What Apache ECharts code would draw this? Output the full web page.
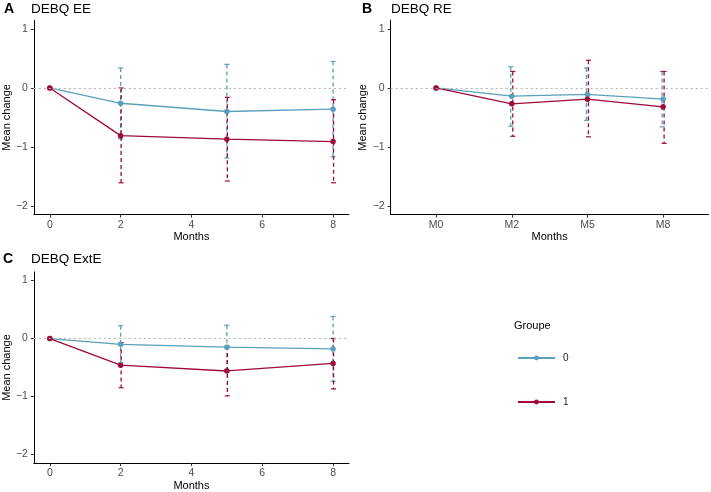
<!DOCTYPE html>
<html>
<head>
<meta charset="utf-8">
<script src="https://cdn.jsdelivr.net/npm/echarts@6/dist/echarts.min.js"></script>
<style>
  html, body { margin: 0; padding: 0; background: #fff; }
  #chart { width: 711px; height: 492px; }
</style>
</head>
<body>
<div id="chart"></div>
<script>
// DEBQ mean change by group, 3 panels

var months = [0, 2, 5, 8];
var monthLabels = ['M0', 'M2', 'M5', 'M8'];
var groups = ['0', '1'];

// panel A - DEBQ EE
var ee0 = [0, -0.26, -0.40, -0.36];
var ee0Lo = [0, -0.86, -1.19, -1.17];
var ee0Hi = [0, 0.34, 0.40, 0.45];
var ee1 = [0, -0.81, -0.87, -0.91];
var ee1Lo = [0, -1.61, -1.58, -1.61];
var ee1Hi = [0, 0.00, -0.16, -0.20];

// panel B - DEBQ RE
var re0 = [0, -0.14, -0.11, -0.19];
var re0Lo = [0, -0.65, -0.55, -0.66];
var re0Hi = [0, 0.36, 0.34, 0.28];
var re1 = [0, -0.27, -0.19, -0.32];
var re1Lo = [0, -0.82, -0.83, -0.94];
var re1Hi = [0, 0.28, 0.47, 0.28];

// panel C - DEBQ ExtE
var ext0 = [0, -0.10, -0.15, -0.18];
var ext0Lo = [0, -0.42, -0.53, -0.74];
var ext0Hi = [0, 0.22, 0.23, 0.38];
var ext1 = [0, -0.46, -0.56, -0.43];
var ext1Lo = [0, -0.85, -0.99, -0.87];
var ext1Hi = [0, -0.07, -0.13, 0.00];

var yTicks = [-2, -1, 0, 1];
var xTicks = [0, 2, 4, 6, 8];

var colors = ['#5A9FBB', '#9E0A3A'];
var font = 'Liberation Sans';

function minusSign(v) {
    return String(v).replace('-', '\u2212');
}

function pairs(xs, ys) {
    return ys.map(function (y, i) { return [xs[i], y]; });
}

function errRows(xs, lo, hi) {
    var rows = [];
    lo.forEach(function (l, i) {
        if (l !== hi[i]) rows.push([xs[i], l, hi[i]]);
    });
    return rows;
}

function errSeries(idx, color, rows, shift) {
    return {
        type: 'custom',
        xAxisIndex: idx, yAxisIndex: idx,
        silent: true,
        z: 2,
        renderItem: function (params, api) {
            var top = api.coord([api.value(0), api.value(2)]);
            var bot = api.coord([api.value(0), api.value(1)]);
            var x = top[0] + shift;
            var st = { stroke: color, lineWidth: 1.3, lineDash: [4, 3] };
            var cap = { stroke: color, lineWidth: 1.2 };
            return {
                type: 'group',
                children: [
                    { type: 'line', shape: { x1: x, y1: top[1], x2: x, y2: bot[1] }, style: st },
                    { type: 'line', shape: { x1: x - 2.5, y1: top[1], x2: x + 2.5, y2: top[1] }, style: cap },
                    { type: 'line', shape: { x1: x - 2.5, y1: bot[1], x2: x + 2.5, y2: bot[1] }, style: cap }
                ]
            };
        },
        data: rows
    };
}

function lineSeries(idx, name, color, data, zeroLine) {
    var s = {
        type: 'line',
        name: name,
        xAxisIndex: idx, yAxisIndex: idx,
        data: data,
        symbol: 'circle',
        symbolSize: 5.5,
        z: 3,
        itemStyle: { color: color },
        lineStyle: { color: color, width: 1.3 }
    };
    if (zeroLine) {
        s.markLine = {
            silent: true,
            symbol: 'none',
            label: { show: false },
            lineStyle: { color: '#b3b3b3', type: [2, 3], width: 1 },
            data: [{ yAxis: 0 }]
        };
    }
    return s;
}

function xAxisDef(idx, min, max, ticks, fmt, gap) {
    return {
        type: 'value', gridIndex: idx, min: min, max: max,
        name: 'Months', nameLocation: 'middle', nameGap: gap,
        nameTextStyle: { fontFamily: font, fontSize: 11, color: '#000' },
        axisLine: { show: true, onZero: false, lineStyle: { color: '#000', width: 1 } },
        axisTick: { show: true, length: 3, customValues: ticks, lineStyle: { color: '#333' } },
        axisLabel: { customValues: ticks, formatter: fmt, fontFamily: font, fontSize: 10.5, color: '#4d4d4d', margin: 5 },
        splitLine: { show: false }
    };
}

function yAxisDef(idx) {
    return {
        type: 'value', gridIndex: idx, min: -2.15, max: 1.15,
        name: 'Mean change', nameLocation: 'middle', nameGap: 19,
        nameTextStyle: { fontFamily: font, fontSize: 11, color: '#000' },
        axisLine: { show: true, onZero: false, lineStyle: { color: '#000', width: 1 } },
        axisTick: { show: true, length: 3, customValues: yTicks, lineStyle: { color: '#333' } },
        axisLabel: { customValues: yTicks, formatter: minusSign, fontFamily: font, fontSize: 10.5, color: '#4d4d4d', margin: 6 },
        splitLine: { show: false }
    };
}

var monthIdx = monthLabels.map(function (m, i) { return i; });

function titleDef(text, left, top, bold) {
    return {
        text: text, left: left, top: top, padding: 0,
        textStyle: { fontFamily: font, fontSize: bold ? 14 : 13.5, fontWeight: bold ? 'bold' : 'normal', color: '#000' }
    };
}

var option = {
    animation: false,
    backgroundColor: '#fff',
    title: [
        titleDef('A', 4, 2, true),
        titleDef('DEBQ EE', 31, 2, false),
        titleDef('B', 362, 2, true),
        titleDef('DEBQ RE', 391, 2, false),
        titleDef('C', 3, 252, true),
        titleDef('DEBQ ExtE', 31, 252, false)
    ],
    graphic: [
        { type: 'text', left: 514, top: 320, style: { text: 'Groupe', font: '11px "Liberation Sans"', fill: '#000' } }
    ],
    legend: {
        data: groups,
        orient: 'vertical',
        left: 512, top: 348,
        itemWidth: 37, itemHeight: 6,
        itemGap: 34,
        textStyle: { fontFamily: font, fontSize: 10, color: '#222', padding: [0, 0, 0, 3] }
    },
    grid: [
        { left: 32, top: 20.2, width: 317, height: 194.4 },
        { left: 390.7, top: 20.2, width: 317.8, height: 194.4 },
        { left: 32, top: 271.9, width: 317, height: 193.6 }
    ],
    xAxis: [
        xAxisDef(0, -0.45, 8.45, xTicks, null, 15),
        xAxisDef(1, -0.6, 3.6, monthIdx, function (v) { return monthLabels[v]; }, 15),
        xAxisDef(2, -0.45, 8.45, xTicks, null, 14)
    ],
    yAxis: [yAxisDef(0), yAxisDef(1), yAxisDef(2)],
    series: [
        errSeries(0, colors[0], errRows(months, ee0Lo, ee0Hi), 0),
        errSeries(0, colors[1], errRows(months, ee1Lo, ee1Hi), 0.5),
        lineSeries(0, groups[0], colors[0], pairs(months, ee0), true),
        lineSeries(0, groups[1], colors[1], pairs(months, ee1), false),

        errSeries(1, colors[0], errRows(monthIdx, re0Lo, re0Hi), -1),
        errSeries(1, colors[1], errRows(monthIdx, re1Lo, re1Hi), 1),
        lineSeries(1, groups[0], colors[0], pairs(monthIdx, re0), true),
        lineSeries(1, groups[1], colors[1], pairs(monthIdx, re1), false),

        errSeries(2, colors[0], errRows(months, ext0Lo, ext0Hi), 0),
        errSeries(2, colors[1], errRows(months, ext1Lo, ext1Hi), 0.5),
        lineSeries(2, groups[0], colors[0], pairs(months, ext0), true),
        lineSeries(2, groups[1], colors[1], pairs(months, ext1), false)
    ]
};

var chart = echarts.init(document.getElementById('chart'), null, { renderer: 'canvas' });
chart.setOption(option);
</script>
</body>
</html>
